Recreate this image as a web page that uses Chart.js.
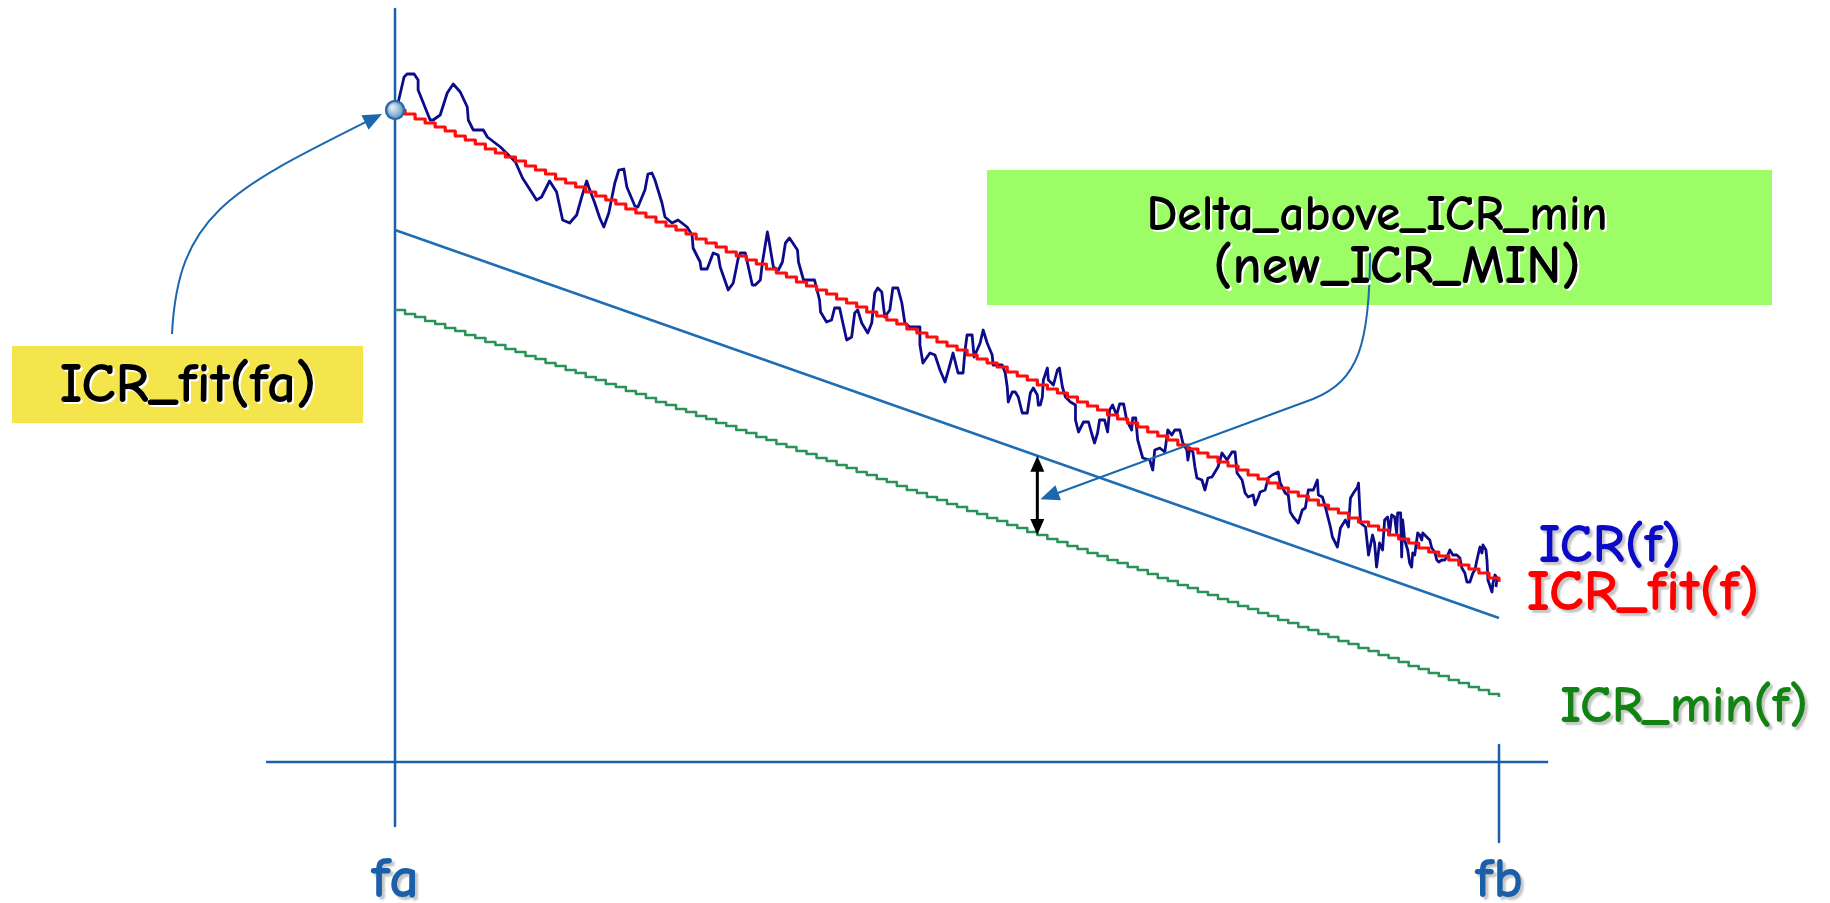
<!DOCTYPE html>
<html>
<head>
<meta charset="utf-8">
<title>ICR fit and minimum</title>
<script src="https://cdn.jsdelivr.net/npm/chart.js@4/dist/chart.umd.min.js"></script>
<style>
  html, body { margin: 0; padding: 0; background: #ffffff; overflow: hidden; }
  canvas { display: block; }
</style>
</head>
<body>
<canvas id="icrChart" width="1830" height="903"></canvas>
<script>
// Band edges on the frequency axis and their tick labels
const edgeFreqs = [0, 110];
const edgeLabels = ['fa', 'fb'];

// Measured ICR(f): frequency and value of each trace point
const icrFreq = [
  0.3,0.9,1.2,1.9,2.3,2.3,3.5,3.8,4.5,5.2,5.8,6.5,7.2,7.3,7.8,8.8,9.2,10.5,12.0,12.7,
  13.6,14.1,14.6,15.4,16.1,16.7,17.4,18.1,18.6,19.1,19.3,19.9,20.4,20.8,21.3,21.9,22.3,22.8,23.1,23.9,
  24.2,24.9,25.2,25.6,25.9,26.6,26.9,27.6,28.2,29.1,29.6,29.7,
  30.4,30.5,31.1,31.7,32.2,32.4,33.2,33.7,34.2,34.4,34.9,35.6,35.9,36.4,36.6,37.1,37.2,37.7,38.2,38.6,
  38.9,39.3,40.1,40.2,40.7,41.8,42.3,42.4,43.0,43.5,43.8,44.3,44.6,45.0,45.5,45.8,46.1,46.5,47.1,47.5,
  47.8,48.1,48.5,48.8,49.3,49.6,50.1,50.5,50.8,51.3,52.3,52.3,52.6,53.3,53.8,54.3,54.8,55.2,55.6,56.1,
  56.6,56.8,57.0,57.5,57.7,58.3,58.6,59.0,59.5,59.6,60.5,60.8,61.0,61.1,61.5,61.8,62.1,62.5,63.0,63.3,
  63.6,64.0,64.1,64.3,64.5,64.6,65.0,65.1,65.6,66.0,66.2,66.5,66.8,67.3,67.8,67.8,68.1,68.6,69.1,69.4,
  69.7,70.0,70.2,
  70.7,71.0,71.2,71.5,71.9,72.2,72.6,72.9,73.4,73.5,73.8,74.0,74.5,75.2,75.5,75.7,76.2,76.7,77.0,77.4,
  77.7,78.2,78.5,78.9,79.0,79.2,79.5,79.7,79.9,80.4,80.7,81.0,81.4,81.7,82.0,82.4,82.9,83.4,83.7,83.9,
  84.4,84.7,85.0,85.5,85.7,86.0,86.2,86.7,87.0,87.4,88.0,88.2,88.7,89.0,89.2,89.5,90.0,90.4,90.7,91.0,
  91.5,91.9,92.0,92.4,92.7,93.2,93.4,93.9,94.2,94.7,95.0,95.2,95.5,95.9,96.0,96.2,96.7,97.0,97.4,97.6,
  97.8,98.1,98.4,98.6,98.9,99.1,99.3,99.6,99.8,99.9,100.2,100.3,100.4,100.6,100.9,101.1,101.3,101.4,101.6,101.9,
  102.1,102.3,102.4,102.8,103.1,103.3,103.6,103.8,104.0,104.3,104.6,104.9,105.1,105.4,105.8,106.1,106.3,106.6,106.8,107.1,
  107.4,107.6,107.8,108.1,108.3,108.4,108.7,108.8,108.9,109.3,109.4,109.6,109.8,109.7
];
const icrValue = [
  65.9,68.5,68.8,68.8,68.2,67.2,64.2,64.2,64.7,66.9,67.8,67.0,65.5,64.2,63.2,63.2,62.5,61.5,60.0,58.4,
  57.0,56.2,56.5,58.1,57.0,54.2,53.9,54.7,56.5,58.1,57.5,55.9,54.4,53.5,54.9,57.9,59.2,59.3,57.5,55.6,
  55.5,57.2,58.8,58.9,58.2,55.9,54.5,53.9,54.2,53.5,52.7,51.4,
  50.0,49.3,49.3,50.9,50.7,49.5,47.2,47.9,50.4,50.9,50.9,47.7,47.7,48.2,49.9,53.0,52.5,49.5,49.2,50.0,
  51.9,52.4,51.2,50.0,48.2,48.2,46.2,45.0,44.0,44.2,45.4,45.4,44.0,42.2,42.5,44.9,45.2,43.9,42.9,43.9,
  46.9,47.4,47.0,44.5,45.2,47.4,47.4,45.9,43.9,43.5,43.5,41.7,39.9,40.9,40.7,39.2,38.0,39.4,40.9,38.9,
  38.9,41.2,42.7,42.7,40.5,41.9,43.2,41.9,40.7,39.7,39.7,38.9,37.5,36.0,37.0,37.0,36.5,34.9,34.9,36.9,
  37.4,36.7,35.7,35.7,36.5,38.2,39.4,38.2,37.7,39.2,39.4,37.5,36.5,36.0,35.7,34.2,33.0,34.0,34.0,32.9,
  31.9,32.9,34.2,
  34.2,33.0,35.2,35.7,34.7,35.8,35.8,34.2,33.2,34.4,34.4,32.2,30.4,30.2,29.2,31.2,31.4,31.0,33.2,32.7,
  33.2,33.2,31.9,31.2,30.2,31.4,31.0,29.5,28.4,28.2,27.2,28.4,28.5,29.0,29.5,30.9,30.2,31.0,31.0,28.9,
  28.2,26.9,26.5,26.7,25.7,26.4,27.0,27.2,28.4,28.7,29.0,27.9,26.9,26.7,25.0,24.5,23.9,25.2,25.4,27.2,
  27.2,28.2,26.7,26.5,25.5,23.5,22.5,21.5,23.4,24.2,23.5,26.4,26.9,27.5,27.9,23.9,23.5,20.7,22.7,21.9,
  19.5,21.9,21.2,24.2,24.5,22.9,24.7,24.5,22.9,24.9,24.9,20.5,24.2,22.2,21.2,19.9,19.5,20.9,20.7,22.9,
  22.7,22.2,22.9,22.5,22.2,21.4,21.0,20.2,20.0,20.2,20.2,20.7,21.2,20.7,20.7,20.4,19.4,18.9,18.0,18.0,
  18.9,19.2,20.2,21.5,20.9,21.7,21.2,20.2,18.2,17.0,17.9,18.7,18.4,17.5
];

// ICR_fit(f): one value per frequency step, starting at fa
const fitValues = [
  65.2,64.8,64.3,63.9,63.5,63.1,62.6,62.2,61.8,61.3,60.9,60.5,60.1,59.6,59.2,58.8,58.3,57.9,57.5,57.0,
  56.6,56.2,55.8,55.3,54.9,54.5,54.0,53.6,53.2,52.8,52.3,51.9,51.5,51.0,50.6,50.2,49.8,49.3,48.9,48.5,
  48.0,47.6,47.2,46.8,46.3,45.9,45.5,45.0,44.6,44.2,43.8,43.3,42.9,42.5,42.0,41.6,41.2,40.7,40.3,39.9,
  39.5,39.0,38.6,38.2,37.7,37.3,36.9,36.5,36.0,35.6,35.2,34.7,34.3,33.9,33.5,33.0,32.6,32.2,31.7,31.3,
  30.9,30.5,30.0,29.6,29.2,28.7,28.3,27.9,27.4,27.0,26.6,26.2,25.7,25.3,24.9,24.4,24.0,23.6,23.2,22.7,
  22.3,21.9,21.4,21.0,20.6,20.2,19.7,19.3,18.9,18.4,18.0
];

// ICR_min(f): one value per frequency step, starting at fa
const minValues = [
  45.2,44.8,44.5,44.1,43.8,43.4,43.1,42.7,42.4,42.0,41.7,41.3,41.0,40.6,40.3,39.9,39.6,39.2,38.9,38.5,
  38.2,37.8,37.5,37.1,36.8,36.4,36.0,35.7,35.3,35.0,34.6,34.3,33.9,33.6,33.2,32.9,32.5,32.2,31.8,31.5,
  31.1,30.8,30.4,30.1,29.7,29.4,29.0,28.7,28.3,28.0,27.6,27.2,26.9,26.5,26.2,25.8,25.5,25.1,24.8,24.4,
  24.1,23.7,23.4,23.0,22.7,22.3,22.0,21.6,21.3,20.9,20.6,20.2,19.9,19.5,19.2,18.8,18.4,18.1,17.7,17.4,
  17.0,16.7,16.3,16.0,15.6,15.3,14.9,14.6,14.2,13.9,13.5,13.2,12.8,12.5,12.1,11.8,11.4,11.1,10.7,10.4,
  10.0,9.6,9.3,8.9,8.6,8.2,7.9,7.5,7.2,6.8,6.5
];

// New minimum (Delta above ICR_min) at fa and at fb
const newMinValues = [53.2, 14.4];

// Frequency where the delta is marked
const deltaFreq = 64;

// Text drawn on the chart
const seriesLabels = ['ICR(f)', 'ICR_fit(f)', 'ICR_min(f)'];
const fitBoxLines = ['ICR_fit(fa)'];
const deltaBoxLines = ['Delta_above_ICR_min', '(new_ICR_MIN)'];

// ---------------------------------------------------------------------------
// View window and frame extents (data units)
const view = { xMin: -39.36, xMax: 142.98, yMin: -14.1, yMax: 76.2 };
const frame = { axisTop: 75.3, axisBottom: -6.4, baseLeft: -12.85, baseRight: 114.9, tickTop: 1.7, tickBottom: -8.0 };

const FONT = '"Comic Sans MS", "Comic Neue", "DejaVu Sans", sans-serif';
const WEIGHT = 'bold ';
const AXIS_BLUE = '#1a5fa8';
const ARROW_BLUE = '#1b68ae';

const toPoints = (xs, ys) => ys.map((v, i) => ({ x: xs[i], y: v }));
const stepPoints = ys => ys.map((v, i) => ({ x: edgeFreqs[0] + i, y: v }));

function fitSize(ctx, text, width) {
  ctx.font = WEIGHT + '100px ' + FONT;
  return 100 * width / ctx.measureText(text).width;
}

function drawLabel(ctx, text, cx, baseY, width, color, shadow) {
  const size = fitSize(ctx, text, width);
  ctx.save();
  ctx.font = WEIGHT + size.toFixed(1) + 'px ' + FONT;
  ctx.textAlign = 'center';
  ctx.textBaseline = 'alphabetic';
  ctx.shadowColor = shadow.color;
  ctx.shadowOffsetX = shadow.dx;
  ctx.shadowOffsetY = shadow.dy;
  ctx.shadowBlur = shadow.blur;
  ctx.fillStyle = color;
  ctx.fillText(text, cx, baseY);
  ctx.restore();
}

function arrowHead(ctx, fromX, fromY, tipX, tipY, len, half, color) {
  const a = Math.atan2(tipY - fromY, tipX - fromX);
  const bx = tipX - len * Math.cos(a), by = tipY - len * Math.sin(a);
  ctx.beginPath();
  ctx.moveTo(tipX, tipY);
  ctx.lineTo(bx + half * Math.sin(a), by - half * Math.cos(a));
  ctx.lineTo(bx - half * Math.sin(a), by + half * Math.cos(a));
  ctx.closePath();
  ctx.fillStyle = color;
  ctx.fill();
}

const textShadow = { color: 'rgba(90,90,90,0.35)', dx: 3, dy: 3, blur: 2 };
const boxShadow = { color: '#ffffff', dx: 2, dy: 2, blur: 0 };

// Callout boxes, series labels, arrows and the fa/fb tick labels
const annotations = {
  id: 'annotations',
  afterDatasetsDraw(chart) {
    const { ctx } = chart;
    const xs = chart.scales.x, ys = chart.scales.y;

    // shading on the ICR_fit(fa) marker
    const dotMeta = chart.getDatasetMeta(chart.data.datasets.length - 1);
    const dot = dotMeta.data[0];
    ctx.save();
    const g = ctx.createRadialGradient(dot.x - 3, dot.y - 3, 1, dot.x, dot.y, 9);
    g.addColorStop(0, '#e2edf7');
    g.addColorStop(0.55, '#9fbfdd');
    g.addColorStop(1, '#5d8fc0');
    ctx.beginPath();
    ctx.arc(dot.x, dot.y, 9, 0, Math.PI * 2);
    ctx.fillStyle = g;
    ctx.fill();
    ctx.lineWidth = 2.2;
    ctx.strokeStyle = '#2b6aa6';
    ctx.stroke();
    ctx.restore();

    // delta marker between the new minimum line and ICR_min(f)
    const ax = xs.getPixelForValue(deltaFreq);
    const t = (deltaFreq - edgeFreqs[0]) / (edgeFreqs[1] - edgeFreqs[0]);
    const topVal = newMinValues[0] + (newMinValues[1] - newMinValues[0]) * t;
    const topY = ys.getPixelForValue(topVal);
    const botY = ys.getPixelForValue(minValues[deltaFreq - edgeFreqs[0]]);
    ctx.save();
    ctx.strokeStyle = '#000000';
    ctx.lineWidth = 3;
    ctx.beginPath();
    ctx.moveTo(ax, topY + 10);
    ctx.lineTo(ax, botY - 10);
    ctx.stroke();
    arrowHead(ctx, ax, botY, ax, topY, 16, 7, '#000000');
    arrowHead(ctx, ax, topY, ax, botY, 16, 7, '#000000');
    ctx.restore();

    // yellow callout
    ctx.save();
    ctx.fillStyle = '#f3e54b';
    ctx.fillRect(12, 346, 351, 77);
    drawLabel(ctx, fitBoxLines[0], 188, 402, 257, '#000000', boxShadow);

    // curved pointer from the yellow callout to ICR_fit(fa)
    const tip1 = { x: dot.x - 13, y: dot.y + 4 };
    const c2 = { x: 230, y: 190 };
    const d1 = Math.hypot(tip1.x - c2.x, tip1.y - c2.y);
    const base1 = { x: tip1.x - 15 * (tip1.x - c2.x) / d1, y: tip1.y - 15 * (tip1.y - c2.y) / d1 };
    ctx.strokeStyle = ARROW_BLUE;
    ctx.lineWidth = 2;
    ctx.beginPath();
    ctx.moveTo(172, 334);
    ctx.bezierCurveTo(178, 215, c2.x, c2.y, base1.x, base1.y);
    ctx.stroke();
    arrowHead(ctx, c2.x, c2.y, tip1.x, tip1.y, 19, 8, ARROW_BLUE);

    // green callout
    ctx.fillStyle = '#9cfd66';
    ctx.fillRect(987, 170, 785, 135);

    // pointer from the green callout to the delta marker
    const tip2 = { x: ax + 3, y: (topY + botY) / 2 + 4 };
    const bend = { x: 1313, y: 399 };
    const d2 = Math.hypot(tip2.x - bend.x, tip2.y - bend.y);
    const base2 = { x: tip2.x - 15 * (tip2.x - bend.x) / d2, y: tip2.y - 15 * (tip2.y - bend.y) / d2 };
    ctx.beginPath();
    ctx.moveTo(1370, 252);
    ctx.bezierCurveTo(1370, 345, 1358, 381, bend.x, bend.y);
    ctx.lineTo(base2.x, base2.y);
    ctx.stroke();
    arrowHead(ctx, bend.x, bend.y, tip2.x, tip2.y, 19, 8, ARROW_BLUE);

    drawLabel(ctx, deltaBoxLines[0], 1377, 230, 461, '#000000', boxShadow);
    drawLabel(ctx, deltaBoxLines[1], 1397, 283, 367, '#000000', boxShadow);

    // series labels at the right end
    drawLabel(ctx, seriesLabels[0], 1610, 562, 143, '#0a0ac8', textShadow);
    drawLabel(ctx, seriesLabels[1], 1643, 610, 233, '#ff0000', textShadow);
    drawLabel(ctx, seriesLabels[2], 1684, 722, 248, '#128212', textShadow);

    // band edge labels
    edgeFreqs.forEach((f, i) => {
      drawLabel(ctx, edgeLabels[i], xs.getPixelForValue(f), 897, 48, AXIS_BLUE, textShadow);
    });
    ctx.restore();
  }
};

const lineBase = { showLine: true, pointRadius: 0, pointHoverRadius: 0, fill: false, tension: 0, borderJoinStyle: 'round' };

new Chart(document.getElementById('icrChart'), {
  type: 'scatter',
  data: {
    datasets: [
      Object.assign({}, lineBase, {
        label: 'fa',
        data: [{ x: edgeFreqs[0], y: frame.axisTop }, { x: edgeFreqs[0], y: frame.axisBottom }],
        borderColor: AXIS_BLUE, borderWidth: 2.5, order: 10
      }),
      Object.assign({}, lineBase, {
        label: 'f',
        data: [{ x: frame.baseLeft, y: 0 }, { x: frame.baseRight, y: 0 }],
        borderColor: AXIS_BLUE, borderWidth: 2.5, order: 10
      }),
      Object.assign({}, lineBase, {
        label: 'fb',
        data: [{ x: edgeFreqs[1], y: frame.tickTop }, { x: edgeFreqs[1], y: frame.tickBottom }],
        borderColor: AXIS_BLUE, borderWidth: 2.5, order: 10
      }),
      Object.assign({}, lineBase, {
        label: seriesLabels[2],
        data: stepPoints(minValues),
        stepped: true, borderColor: '#2a9358', borderWidth: 2.5, order: 8
      }),
      Object.assign({}, lineBase, {
        label: deltaBoxLines[1],
        data: toPoints(edgeFreqs, newMinValues),
        borderColor: '#1f6db3', borderWidth: 2.5, order: 7
      }),
      Object.assign({}, lineBase, {
        label: seriesLabels[0],
        data: toPoints(icrFreq, icrValue),
        borderColor: '#0c0c8a', borderWidth: 2.8, order: 6
      }),
      Object.assign({}, lineBase, {
        label: seriesLabels[1],
        data: stepPoints(fitValues),
        stepped: true, borderColor: '#ff0c0c', borderWidth: 3.2, order: 5
      }),
      {
        label: fitBoxLines[0],
        data: [{ x: edgeFreqs[0], y: fitValues[0] }],
        showLine: false, pointRadius: 9, pointHoverRadius: 9,
        backgroundColor: '#9fbfdd', borderColor: '#2b6aa6', borderWidth: 2, order: 1
      }
    ]
  },
  options: {
    responsive: false,
    animation: false,
    devicePixelRatio: 1,
    events: [],
    layout: { padding: 0, autoPadding: false },
    plugins: { legend: { display: false }, tooltip: { enabled: false }, title: { display: false } },
    scales: {
      x: { type: 'linear', min: view.xMin, max: view.xMax, display: false },
      y: { type: 'linear', min: view.yMin, max: view.yMax, display: false }
    }
  },
  plugins: [annotations]
});
</script>
</body>
</html>
